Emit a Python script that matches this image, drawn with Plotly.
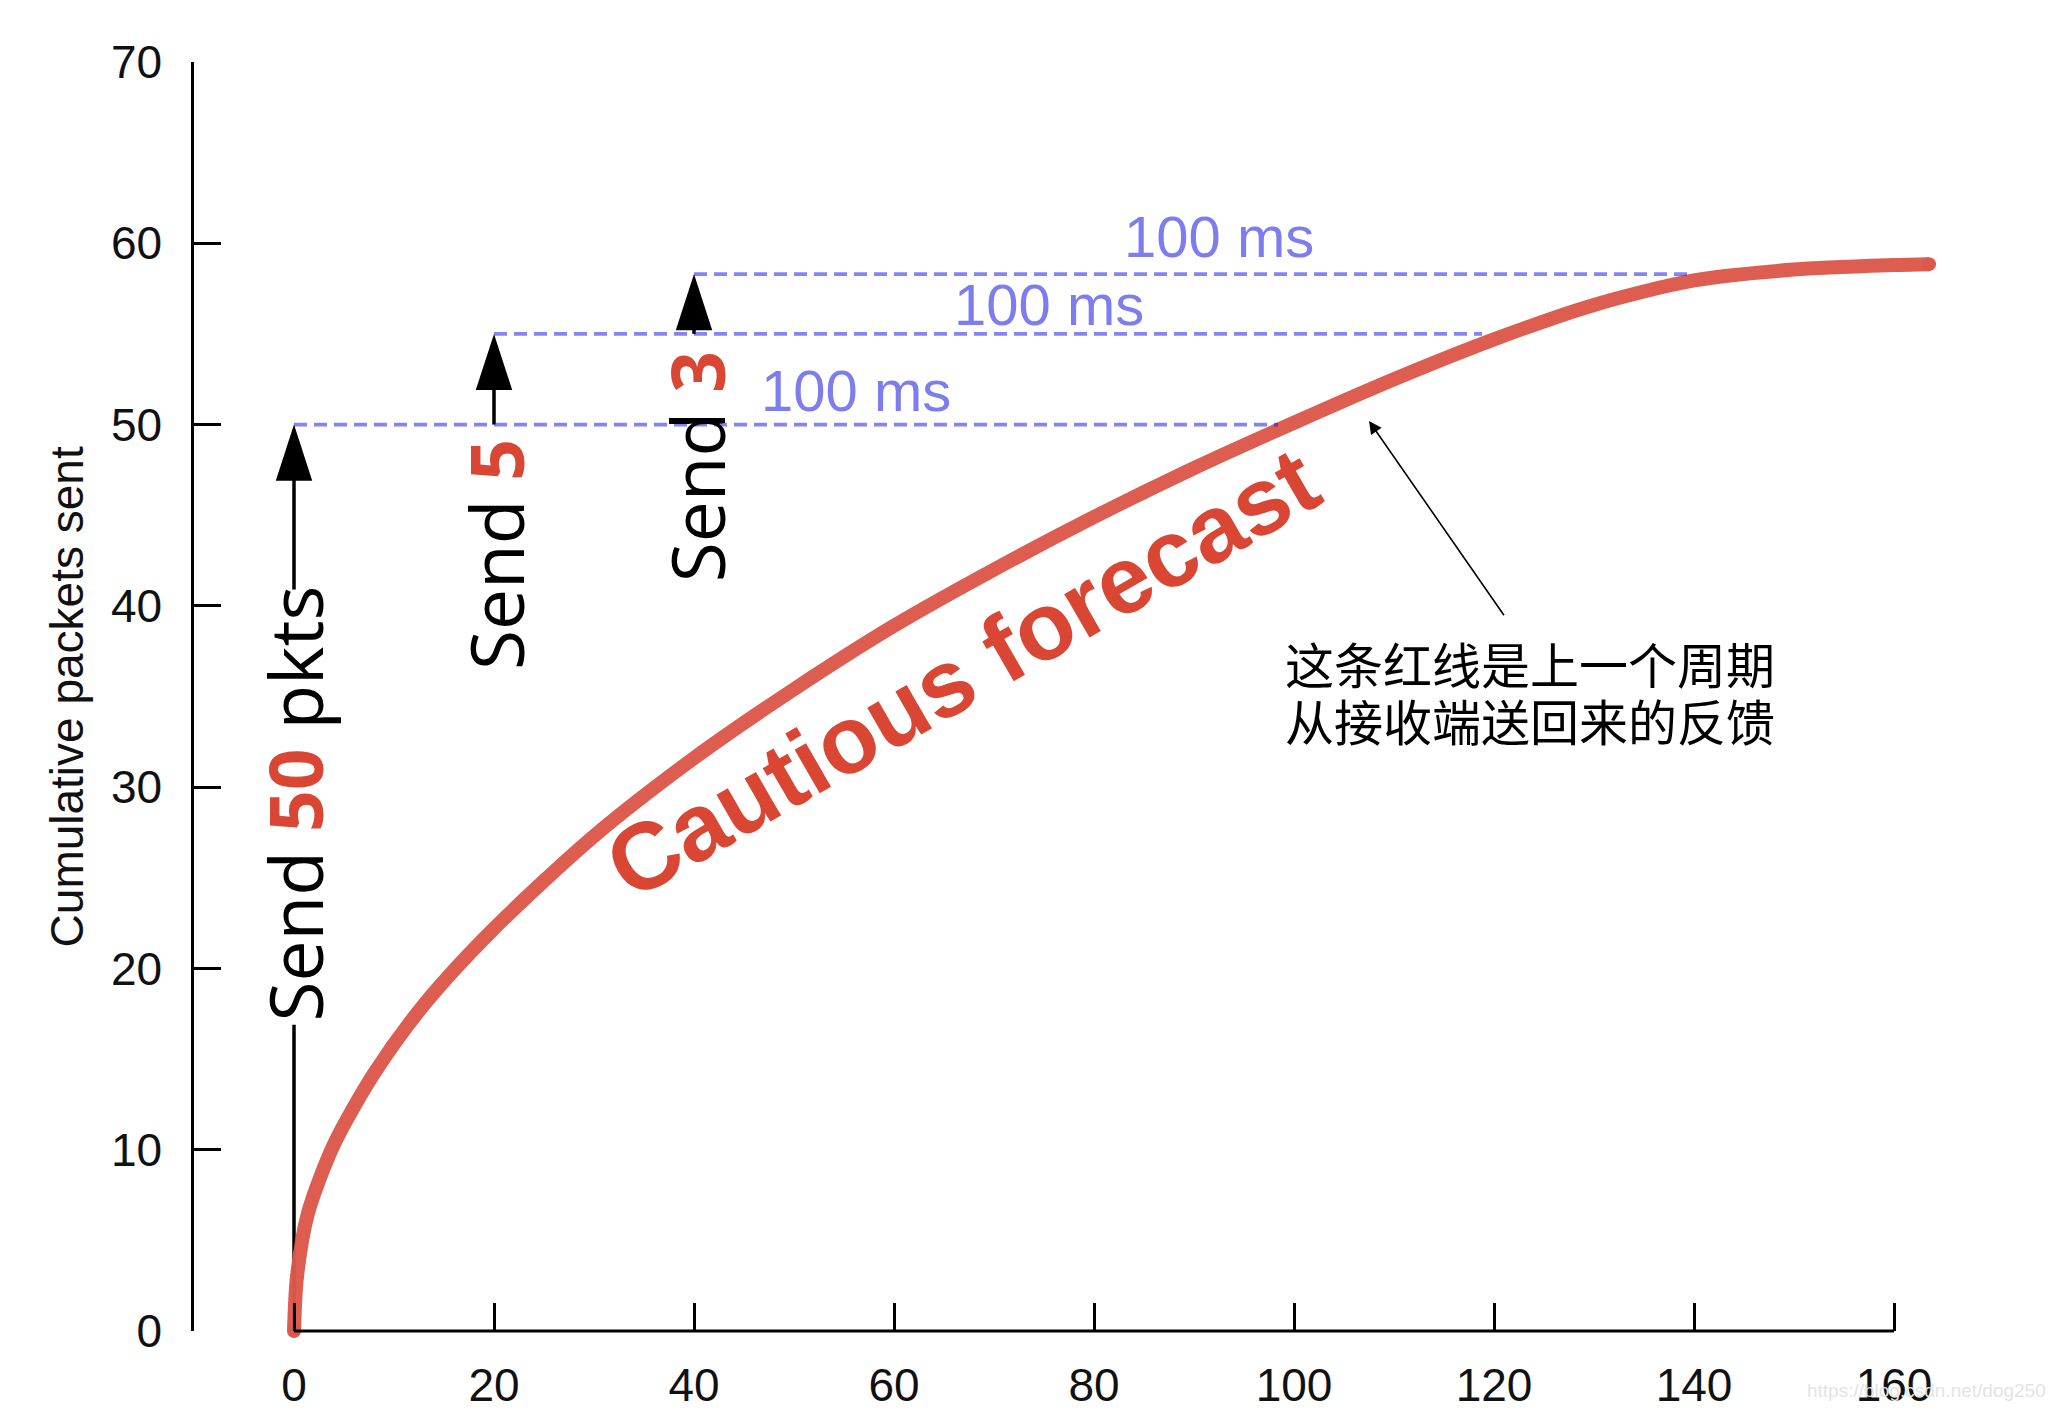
import plotly.graph_objects as go

# ── Data ────────────────────────────────────────────────────────────────────
# red "cautious forecast" curve (time in ms, cumulative packets)
curve_x = [0, 0.3, 1.4, 4, 8, 13, 20, 30, 40, 50, 60, 70, 80, 90, 100, 110,
           120, 130, 140, 150, 160, 163.5]
curve_y = [0, 3.0, 6.5, 10.3, 14.2, 18.0, 22.2, 27.3, 31.6, 35.4, 38.9, 42.0,
           44.9, 47.6, 50.1, 52.5, 54.7, 56.6, 57.95, 58.55, 58.8, 58.85]

# sending events
send_times = [0, 20, 40]
send_counts = [50, 5, 3]
send_levels = [50, 55, 58.3]
# where each level meets the curve again (~100 ms later)
echo_times = [98.4, 118.8, 139.9]
rtt_label = "100 ms"

x_ticks = [0, 20, 40, 60, 80, 100, 120, 140, 160]
y_ticks = [0, 10, 20, 30, 40, 50, 60, 70]
x_range = [-10, 170]
y_range = [0, 70]

COLORS = {
    "curve": "#dc584b",
    "red_text": "#d94634",
    "blue": "#7d7def",
    "dash": "rgba(20,20,235,0.52)",
    "ink": "#111111",
}
SANS = "Liberation Sans, Arial, sans-serif"
OPEN = "Open Sans, sans-serif"
CJK = "Noto Sans CJK SC, sans-serif"

fig = go.Figure()

# ── vertical "send" shafts ──────────────────────────────────────────────────
shaft_bottoms = [40.9, send_levels[0], send_levels[1]]
for t, lo, hi in zip(send_times, shaft_bottoms, send_levels):
    fig.add_trace(go.Scatter(
        x=[t, t], y=[lo, hi - 1.5], mode="lines",
        line=dict(color="black", width=3.5), hoverinfo="skip",
    ))
# lower part of the first shaft (below the label)
fig.add_trace(go.Scatter(
    x=[send_times[0], send_times[0]], y=[0, 16.9], mode="lines",
    line=dict(color="black", width=3.5), hoverinfo="skip",
))

# ── forecast curve ──────────────────────────────────────────────────────────
fig.add_trace(go.Scatter(
    x=curve_x, y=curve_y, mode="lines",
    line=dict(color=COLORS["curve"], width=14, shape="spline", smoothing=0.8),
    opacity=0.97, hoverinfo="skip",
))
# round caps at both ends
fig.add_trace(go.Scatter(
    x=[curve_x[0], curve_x[-1]], y=[curve_y[0], curve_y[-1]], mode="markers",
    marker=dict(color=COLORS["curve"], size=14, line_width=0),
    cliponaxis=False, hoverinfo="skip",
))

# ── 100 ms dashed lines ─────────────────────────────────────────────────────
for t, lvl, e in zip(send_times, send_levels, echo_times):
    fig.add_trace(go.Scatter(
        x=[t, e], y=[lvl, lvl], mode="lines",
        line=dict(color=COLORS["dash"], width=3.8, dash="13px,7px"),
        hoverinfo="skip",
    ))

# arrow heads
fig.add_trace(go.Scatter(
    x=send_times, y=send_levels, mode="markers",
    marker=dict(symbol="arrow", size=59, color="black", line_width=0),
    cliponaxis=False, hoverinfo="skip",
))

# ── annotations ─────────────────────────────────────────────────────────────
red = COLORS["red_text"]
send_texts = [
    f"Send <b><span style='color:{red}'>{send_counts[0]}</span></b> pkts",
    f"Send <b><span style='color:{red}'>{send_counts[1]}</span></b>",
    f"Send <b><span style='color:{red}'>{send_counts[2]}</span></b>",
]
send_pos = [(0, 29.1), (20.1, 42.8), (40.2, 47.65)]
for txt, (px_, py_) in zip(send_texts, send_pos):
    fig.add_annotation(
        x=px_, y=py_, text=txt, showarrow=False, textangle=-90,
        font=dict(family=OPEN, size=73, color="black"),
    )

for px_, py_ in [(56.2, 51.9), (75.5, 56.6), (92.5, 60.4)]:
    fig.add_annotation(
        x=px_, y=py_, text=rtt_label, showarrow=False,
        font=dict(family=SANS, size=58, color=COLORS["blue"]),
    )

fig.add_annotation(
    x=66.8, y=36.3, text="<b>Cautious forecast</b>", showarrow=False,
    textangle=-30, font=dict(family=SANS, size=95, color=red),
)

note_lines = ["这条红线是上一个周期", "从接收端送回来的反馈"]
for line, py_ in zip(note_lines, [36.9, 33.75]):
    fig.add_annotation(
        x=98.9, y=py_, text=line, showarrow=False, xanchor="left",
        font=dict(family=CJK, size=49, color="black"),
    )
fig.add_annotation(
    x=107.5, y=50.2, ax=121.1, ay=39.4, axref="x", ayref="y", text="",
    showarrow=True, arrowhead=2, arrowsize=1.6, arrowwidth=1.6,
    arrowcolor="black",
)

fig.add_annotation(
    xref="paper", yref="paper", x=-0.0706, y=0.5,
    xanchor="center", yanchor="middle",
    text="Cumulative packets sent", showarrow=False, textangle=-90,
    font=dict(family=SANS, size=46, color=COLORS["ink"]),
)
fig.add_annotation(
    xref="paper", yref="paper", x=1.03, y=-0.047, xanchor="right",
    yanchor="middle",
    text="https://blog.csdn.net/dog250", showarrow=False,
    font=dict(family=SANS, size=19, color="#e4e4e4"),
)

# x axis line only between first and last tick
span = x_range[1] - x_range[0]
fig.add_shape(
    type="line", xref="paper", yref="paper",
    x0=(x_ticks[0] - x_range[0]) / span, x1=(x_ticks[-1] - x_range[0]) / span,
    y0=0, y1=0, line=dict(color="black", width=3),
)

# page body adds an 8px margin, so the figure is 16px smaller than the window
fig.update_layout(
    width=2050, height=1404,
    margin=dict(l=186, r=64, t=54, b=81),
    paper_bgcolor="white", plot_bgcolor="white",
    showlegend=False,
    font=dict(family=SANS, color=COLORS["ink"]),
)
fig.update_xaxes(
    range=x_range, tickvals=x_ticks, ticks="inside", ticklen=28,
    tickwidth=2.5, tickcolor="black", showline=False, showgrid=False,
    zeroline=False, tickfont=dict(family=SANS, size=46, color=COLORS["ink"]),
    ticklabelstandoff=23, automargin=False,
)
fig.update_yaxes(
    range=y_range, tickvals=y_ticks, ticks="inside", ticklen=27,
    tickwidth=2.5, tickcolor="black", showline=True, linewidth=2.5,
    linecolor="black", showgrid=False, zeroline=False,
    tickfont=dict(family=SANS, size=46, color=COLORS["ink"]),
    ticklabelstandoff=20, automargin=False,
)

fig.write_html("out.html")
